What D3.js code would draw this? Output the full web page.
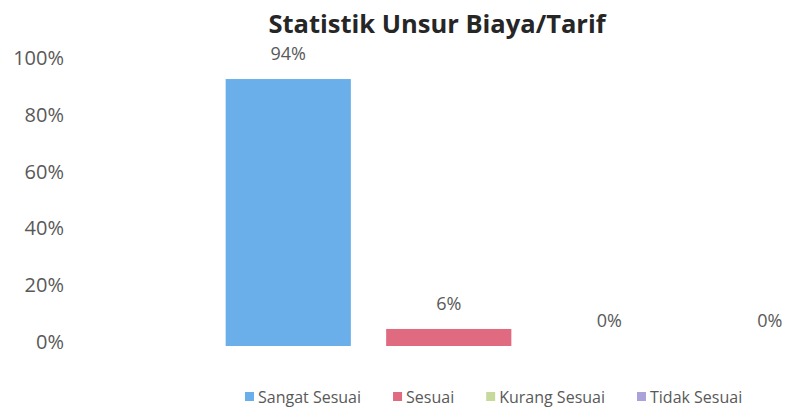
<!DOCTYPE html>
<html>
<head>
<meta charset="utf-8">
<script src="https://cdn.jsdelivr.net/npm/d3@7"></script>
<style>
  body { margin: 0; background: #fff; }
  text { font-family: "Open Sans", Lato, sans-serif; }
</style>
</head>
<body>
<div id="chart"></div>
<script>
var categories = ["Sangat Sesuai", "Sesuai", "Kurang Sesuai", "Tidak Sesuai"];
var values = [0.94, 0.06, 0, 0];
var colors = ["#6aafea", "#e06a80", "#c7d99b", "#aaa3d9"];
var yTicks = [0, 0.2, 0.4, 0.6, 0.8, 1];

var width = 785, height = 408;

var svg = d3.select("#chart").append("svg")
  .attr("width", width)
  .attr("height", height);

var x = d3.scaleBand()
  .domain(categories)
  .range([208, 850])
  .paddingInner(0.22)
  .paddingOuter(0.11);

var y = d3.scaleLinear()
  .domain([0, 1])
  .range([346, 62]);

var fmt = d3.format(".0%");

// title
svg.append("text")
  .attr("x", 437)
  .attr("y", 33)
  .attr("text-anchor", "middle")
  .style("font-size", "25.5px")
  .style("font-weight", "bold")
  .style("fill", "#262626")
  .text("Statistik Unsur Biaya/Tarif");

// y axis, labels only
var yAxis = d3.axisLeft(y)
  .tickValues(yTicks)
  .tickFormat(fmt)
  .tickSize(0)
  .tickPadding(0);

svg.append("g")
  .attr("transform", "translate(64,-4)")
  .call(yAxis)
  .call(function (g) { g.select(".domain").remove(); })
  .selectAll("text")
  .style("font-family", "'Open Sans', Lato, sans-serif")
  .style("font-size", "20px")
  .style("fill", "#595959");

// bars
svg.selectAll(".bar")
  .data(values)
  .enter().append("rect")
  .attr("class", "bar")
  .attr("x", function (d, i) { return x(categories[i]); })
  .attr("y", function (d) { return y(d); })
  .attr("width", x.bandwidth())
  .attr("height", function (d) { return y(0) - y(d); })
  .attr("fill", function (d, i) { return colors[i]; });

// value labels
svg.selectAll(".val")
  .data(values)
  .enter().append("text")
  .attr("class", "val")
  .attr("x", function (d, i) { return x(categories[i]) + x.bandwidth() / 2; })
  .attr("y", function (d) { return y(d) - 19; })
  .attr("text-anchor", "middle")
  .style("font-size", "18px")
  .style("fill", "#595959")
  .text(function (d) { return fmt(d); });

// legend
var legend = svg.append("g").attr("class", "legend");
var lx = 245;
categories.forEach(function (c, i) {
  var item = legend.append("g").attr("transform", "translate(" + lx + ",0)");
  item.append("rect")
    .attr("x", 0)
    .attr("y", 392)
    .attr("width", 9)
    .attr("height", 9)
    .attr("fill", colors[i]);
  var t = item.append("text")
    .attr("x", 13)
    .attr("y", 403)
    .style("font-size", "16px")
    .style("fill", "#595959")
    .text(c);
  lx += 13 + t.node().getComputedTextLength() + 32;
});
</script>
</body>
</html>
